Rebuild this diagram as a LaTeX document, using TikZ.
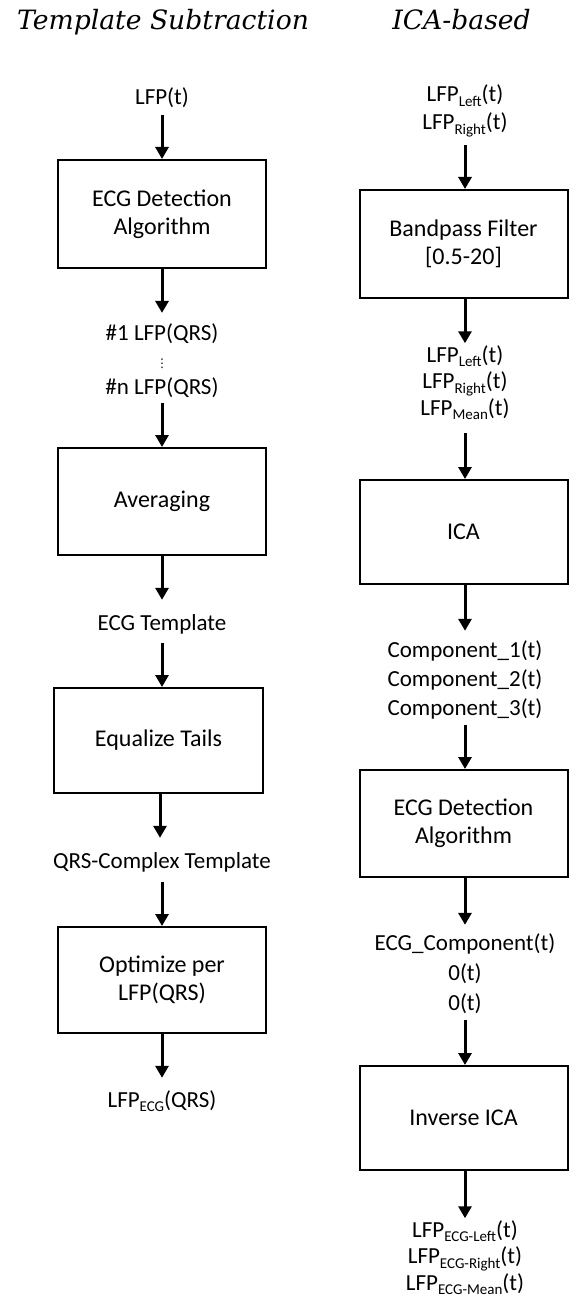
\documentclass[tikz,border=0pt]{standalone}
\usepackage{fontspec}
\setmainfont{Carlito}
\newfontfamily\titlefont{DejaVu Serif}
\newfontfamily\symfont{DejaVu Sans}
\usetikzlibrary{arrows.meta}
\newcommand\lsub[1]{\raisebox{-4.5pt}{\fontsize{15}{15}\selectfont #1}}
\newcommand\labfont[1]{\fontsize{23}{#1}\selectfont\lineskiplimit=-100pt\relax}
\begin{document}
\begin{tikzpicture}[x=1pt,y=-1pt,
  box/.style={draw, line width=2pt, minimum width=208pt, minimum height=107pt,
    inner sep=0pt, align=center, font=\fontsize{24}{28}\selectfont},
  lab/.style={inner sep=0pt, align=center, font=\labfont{27.5}},
  arr/.style={line width=3pt, -{Triangle[length=12pt,width=13pt]}},
  ttl/.style={inner sep=0pt, anchor=base, font=\titlefont\itshape\fontsize{26.6}{30}\selectfont}
]
\useasboundingbox (0,0) rectangle (574,1297);

% titles
\node[ttl] (t1) at (163,30) {Template Subtraction};
\node[ttl] (t2) at (461.5,30) {ICA-based};

% left column
\node[lab] (L0) at (162,99.5) {\strut LFP(t)};
\node[box, minimum height=108pt] (b1) at (162,214) {ECG Detection\\Algorithm};
\node[lab, font=\labfont{27}] (L1) at (162,361.6)
  {\strut\#1 LFP(QRS)\\\strut{\symfont\fontsize{12}{12}\selectfont ⋮}\\\strut\#n LFP(QRS)};
\node[box] (b2) at (162,501.5) {Averaging};
\node[lab] (L2) at (162,624.5) {\strut ECG Template};
\node[box, minimum width=209pt, minimum height=105pt] (b3) at (158.5,740.5) {Equalize Tails};
\node[lab] (L3) at (162,862.5) {\strut QRS-Complex Template};
\node[box, minimum height=106pt] (b4) at (162,980) {Optimize per\\LFP(QRS)};
\node[lab] (L4) at (162,1101.5) {\strut LFP\lsub{ECG}(QRS)};

% right column
\node[lab, font=\labfont{28}] (R0) at (465,110.4)
  {\strut LFP\lsub{Left}(t)\\\strut LFP\lsub{Right}(t)};
\node[box, minimum height=108pt] (r1) at (463.5,244) {Bandpass Filter\\{[0.5-20]}};
\node[lab, font=\labfont{26.5}] (R1) at (465,383.2)
  {\strut LFP\lsub{Left}(t)\\\strut LFP\lsub{Right}(t)\\\strut LFP\lsub{Mean}(t)};
\node[box, minimum height=104pt] (r2) at (463.5,532) {ICA};
\node[lab, font=\labfont{29}] (R2) at (465,680.2)
  {\strut Component\_1(t)\\\strut Component\_2(t)\\\strut Component\_3(t)};
\node[box] (r3) at (463.5,823.5) {ECG Detection\\Algorithm};
\node[lab, font=\labfont{30}] (R3) at (465,974)
  {\strut ECG\_Component(t)\\\strut 0(t)\\\strut 0(t)};
\node[box, minimum height=104pt] (r4) at (463.5,1118) {Inverse ICA};
\node[lab, font=\labfont{26.5}] (R4) at (465,1258.2)
  {\strut LFP\lsub{ECG-Left}(t)\\\strut LFP\lsub{ECG-Right}(t)\\\strut LFP\lsub{ECG-Mean}(t)};

% arrows left
\draw[arr, shorten <=1.75pt] (L0.south) -- (L0.south |- b1.north);
\draw[arr, shorten >=8pt] (L1.north |- b1.south) -- (L1.north);
\draw[arr, shorten <=1pt] (L1.south) -- (L1.south |- b2.north);
\draw[arr, shorten >=10.75pt] (L2.north |- b2.south) -- (L2.north);
\draw[arr, shorten <=4.75pt] (L2.south) -- (L2.south |- b3.north);
\draw[arr, shorten >=10.75pt] ([xshift=-2pt]L3.north |- b3.south) -- ([xshift=-2pt]L3.north);
\draw[arr, shorten <=5.75pt] (L3.south) -- (L3.south |- b4.north);
\draw[arr, shorten >=9.75pt] (L4.north |- b4.south) -- (L4.north);

% arrows right
\draw[arr, shorten <=6.6pt] (R0.south) -- (R0.south |- r1.north);
\draw[arr] (R1.north |- r1.south) -- (R1.north);
\draw[arr, shorten <=10pt] (R1.south) -- (R1.south |- r2.north);
\draw[arr, shorten >=5.7pt] (R2.north |- r2.south) -- (R2.north);
\draw[arr, shorten <=1.3pt] (R2.south) -- (R2.south |- r3.north);
\draw[arr, shorten >=4pt] (R3.north |- r3.south) -- (R3.north);
\draw[arr, shorten <=1pt] (R3.south) -- (R3.south |- r4.north);
\draw[arr] (R4.north |- r4.south) -- (R4.north);
\end{tikzpicture}
\end{document}
